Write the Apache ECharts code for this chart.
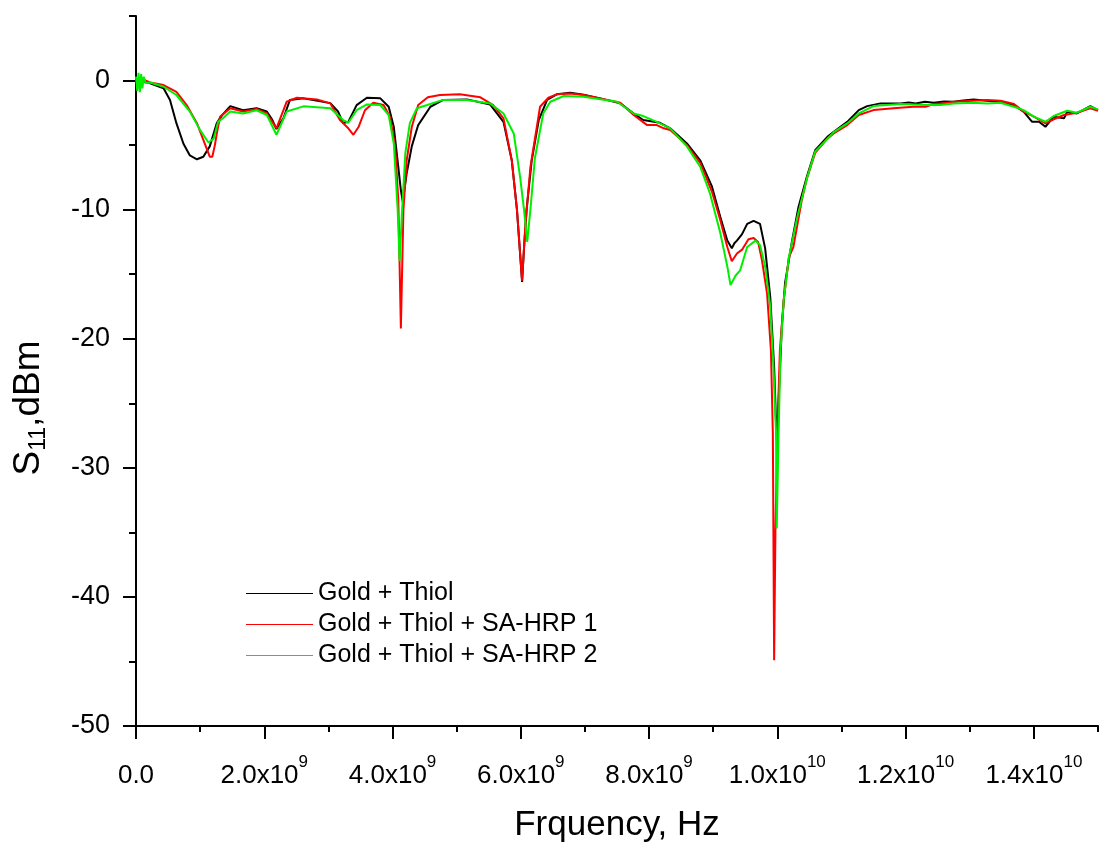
<!DOCTYPE html>
<html>
<head>
<meta charset="utf-8">
<script src="https://cdn.jsdelivr.net/npm/echarts@6/dist/echarts.min.js"></script>
<style>
html,body{margin:0;padding:0;background:#fff;}
#chart{width:1101px;height:845px;}
</style>
</head>
<body>
<div id="chart"></div>
<script>
// Frequency in GHz, S11 in dBm
const blackFreq = [0.00,0.05,0.22,0.43,0.53,0.63,0.74,0.84,0.95,1.05,1.15,1.26,1.34,1.47,1.67,1.88,2.04,2.12,2.19,2.30,2.40,2.61,3.03,3.15,3.23,3.31,3.44,3.60,3.81,3.94,4.02,4.09,4.13,4.16,4.19,4.22,4.30,4.40,4.59,4.79,5.16,5.52,5.73,5.86,5.94,5.99,6.02,6.05,6.09,6.17,6.28,6.41,6.56,6.77,6.98,7.24,7.55,7.76,7.91,8.17,8.33,8.59,8.80,8.98,9.11,9.22,9.29,9.33,9.37,9.45,9.53,9.63,9.73,9.81,9.89,9.95,9.99,10.02,10.07,10.12,10.23,10.33,10.46,10.59,10.78,10.88,11.09,11.27,11.40,11.61,11.92,12.05,12.16,12.30,12.44,12.60,12.75,12.90,13.06,13.27,13.48,13.69,13.84,13.97,14.08,14.18,14.31,14.47,14.52,14.67,14.88,15.00];
const blackS11  = [-0.05,0.0,-0.22,-0.6,-1.5,-3.3,-4.9,-5.8,-6.1,-5.9,-5.1,-3.3,-2.7,-1.98,-2.3,-2.15,-2.4,-3.0,-3.76,-2.9,-1.5,-1.38,-1.75,-2.4,-3.3,-3.2,-1.9,-1.33,-1.38,-2.03,-3.6,-6.7,-8.5,-9.4,-8.3,-7.2,-5.1,-3.45,-2.03,-1.5,-1.46,-1.85,-3.2,-6.2,-10.0,-13.5,-15.6,-13.0,-10.0,-6.2,-3.06,-1.5,-1.07,-0.95,-1.1,-1.38,-1.77,-2.55,-3.06,-3.27,-3.7,-4.87,-6.2,-8.2,-10.56,-12.4,-13.0,-12.6,-12.4,-11.9,-11.1,-10.87,-11.1,-13.0,-16.8,-22.2,-27.9,-24.8,-19.1,-15.7,-12.4,-9.8,-7.45,-5.4,-4.36,-3.97,-3.2,-2.29,-1.98,-1.77,-1.77,-1.7,-1.77,-1.65,-1.72,-1.62,-1.64,-1.55,-1.46,-1.56,-1.64,-1.9,-2.41,-3.19,-3.19,-3.58,-2.8,-2.93,-2.42,-2.55,-1.98,-2.29];

const redFreq = [0.00,0.10,0.22,0.43,0.63,0.79,0.95,1.05,1.15,1.19,1.23,1.26,1.31,1.47,1.67,1.88,2.04,2.19,2.35,2.51,2.82,3.03,3.18,3.31,3.39,3.47,3.57,3.70,3.86,3.96,4.04,4.09,4.13,4.17,4.22,4.30,4.40,4.55,4.74,5.05,5.37,5.57,5.73,5.86,5.94,6.02,6.07,6.15,6.30,6.43,6.56,6.77,6.98,7.24,7.55,7.76,7.97,8.12,8.23,8.33,8.59,8.80,8.98,9.11,9.22,9.29,9.37,9.45,9.55,9.63,9.70,9.76,9.84,9.90,9.93,9.95,9.97,10.00,10.04,10.10,10.18,10.25,10.38,10.46,10.59,10.78,10.88,11.09,11.27,11.50,11.81,12.12,12.31,12.44,12.60,12.75,12.90,13.06,13.27,13.48,13.69,13.84,14.00,14.18,14.31,14.47,14.67,14.88,15.00];
const redS11  = [-0.05,0.1,-0.15,-0.35,-0.87,-1.9,-3.3,-4.6,-5.9,-5.9,-5.0,-4.1,-2.8,-2.15,-2.4,-2.2,-2.55,-3.7,-1.64,-1.33,-1.46,-1.77,-3.06,-3.7,-4.2,-3.6,-2.3,-1.72,-1.9,-2.8,-5.1,-9.3,-19.2,-10.0,-6.2,-3.6,-1.9,-1.3,-1.12,-1.07,-1.3,-1.9,-2.93,-6.2,-10.0,-15.5,-11.3,-6.7,-2.03,-1.33,-1.07,-1.0,-1.12,-1.38,-1.72,-2.67,-3.45,-3.45,-3.7,-3.84,-5.0,-6.4,-8.6,-10.8,-12.9,-14.0,-13.4,-13.1,-12.3,-12.2,-12.5,-13.9,-16.5,-20.9,-27.3,-44.9,-35.0,-27.3,-20.9,-17.0,-13.7,-12.9,-9.3,-7.6,-5.6,-4.5,-4.1,-3.45,-2.67,-2.29,-2.15,-2.03,-2.03,-1.82,-1.75,-1.64,-1.6,-1.56,-1.51,-1.56,-1.82,-2.41,-2.8,-3.32,-3.0,-2.67,-2.49,-2.15,-2.34];

const greenFreq = [0.00,0.02,0.04,0.06,0.08,0.10,0.12,0.15,0.22,0.43,0.63,0.84,1.00,1.13,1.21,1.28,1.36,1.47,1.67,1.88,2.04,2.19,2.35,2.61,3.03,3.23,3.31,3.44,3.60,3.81,3.94,4.02,4.08,4.11,4.15,4.20,4.27,4.38,4.54,4.79,5.16,5.52,5.73,5.89,5.99,6.05,6.10,6.15,6.22,6.35,6.46,6.67,6.98,7.50,7.76,7.91,8.12,8.33,8.59,8.80,8.95,9.11,9.22,9.27,9.35,9.42,9.53,9.66,9.73,9.81,9.89,9.94,9.98,9.99,10.02,10.05,10.10,10.18,10.31,10.46,10.59,10.88,11.09,11.27,11.50,11.92,12.33,12.54,12.75,13.06,13.27,13.48,13.69,13.84,14.00,14.18,14.31,14.52,14.67,14.88,15.00];
const greenS11  = [0.3,-0.8,0.6,-0.9,0.5,-0.6,0.3,-0.2,-0.15,-0.48,-1.12,-2.4,-3.84,-4.8,-4.5,-3.2,-2.9,-2.4,-2.55,-2.3,-2.67,-4.2,-2.4,-2.0,-2.15,-3.06,-3.27,-2.3,-1.85,-1.9,-2.67,-4.9,-10.0,-14.0,-10.0,-5.6,-3.3,-2.15,-1.9,-1.5,-1.5,-1.77,-2.55,-4.1,-7.5,-10.0,-12.5,-10.0,-6.0,-2.55,-1.64,-1.2,-1.25,-1.64,-2.55,-2.75,-3.2,-3.7,-5.1,-6.7,-8.75,-11.8,-14.4,-15.85,-15.1,-14.7,-12.9,-12.4,-12.75,-14.4,-17.5,-22.2,-27.3,-34.7,-27.3,-20.9,-17.0,-13.7,-10.6,-7.6,-5.5,-4.0,-3.32,-2.55,-1.98,-1.82,-1.9,-1.9,-1.77,-1.72,-1.77,-1.72,-2.03,-2.29,-2.8,-3.19,-2.75,-2.34,-2.49,-2.03,-2.23];

const seriesNames = ['Gold + Thiol','Gold + Thiol + SA-HRP 1','Gold + Thiol + SA-HRP 2'];
const seriesColors = ['#000000','#ff0000','#00ee00'];
const xMajorTicks = [0,2e9,4e9,6e9,8e9,1e10,1.2e10,1.4e10];
const xMinorTicks = [1e9,3e9,5e9,7e9,9e9,1.1e10,1.3e10,1.5e10];
const yMajorTicks = [-50,-40,-30,-20,-10,0];
const yMinorTicks = [-45,-35,-25,-15,-5,5];
const xTitle = 'Frquency, Hz';

function pairs(f, v){ return f.map((x,i)=>[x*1e9, v[i]]); }
const font = "'Liberation Sans', Arial, sans-serif";

function xFmt(v){
  if (v === 0) return '{b|0.0}';
  const e = Math.floor(Math.log10(v) + 1e-9);
  const m = (v/Math.pow(10,e)).toFixed(1);
  return '{b|' + m + 'x10}{s|' + e + '}';
}

const chart = echarts.init(document.getElementById('chart'), null, {renderer:'canvas'});
const axisLineStyle = {color:'#000', width:2};
chart.setOption({
  animation:false,
  backgroundColor:'#fff',
  textStyle:{fontFamily:font},
  grid:{left:136, right:3, top:16, bottom:119, containLabel:false, outerBoundsMode:'none'},
  legend:{
    orient:'vertical', left:241, top:574, itemGap:2,
    itemWidth:67, itemHeight:1.2, icon:'rect',
    data:seriesNames,
    textStyle:{fontSize:25, color:'#000', fontFamily:font, lineHeight:29}
  },
  xAxis:[{
    type:'value', min:0, max:1.5e10, interval:2e9,
    name:xTitle, nameLocation:'middle', nameGap:82,
    nameTextStyle:{fontSize:35, color:'#000', fontFamily:font},
    axisLine:{show:true, onZero:false, lineStyle:axisLineStyle},
    axisTick:{show:true, length:13, lineStyle:{color:'#000', width:2}, customValues:xMajorTicks},
    splitLine:{show:false},
    axisLabel:{
      customValues:xMajorTicks, margin:28, color:'#000', formatter:xFmt,
      rich:{
        b:{fontSize:26, fontFamily:font, color:'#000', padding:[9,0,0,0], verticalAlign:'bottom'},
        s:{fontSize:17, fontFamily:font, color:'#000', verticalAlign:'top'}
      }
    }
  },{
    type:'value', min:0, max:1.5e10, interval:1e9, position:'bottom',
    axisLine:{show:false, onZero:false},
    axisTick:{show:true, length:6, lineStyle:{color:'#000', width:2}, customValues:xMinorTicks},
    axisLabel:{show:false}, splitLine:{show:false}
  }],
  yAxis:[{
    type:'value', min:-50, max:5, interval:10,
    name:'{s|S}{sub|11}{s|,dBm}', nameLocation:'middle', nameGap:86,
    nameTextStyle:{
      padding:[0,74,0,0],
      rich:{
        s:{fontSize:37, fontFamily:font, color:'#000'},
        sub:{fontSize:23, fontFamily:font, color:'#000', padding:[20,0,0,0]}
      }
    },
    axisLine:{show:true, onZero:false, lineStyle:axisLineStyle},
    axisTick:{show:true, length:13, lineStyle:{color:'#000', width:2}, customValues:yMajorTicks},
    splitLine:{show:false},
    axisLabel:{customValues:yMajorTicks, margin:26, fontSize:27, color:'#000', fontFamily:font}
  },{
    type:'value', min:-50, max:5, interval:5, position:'left',
    axisLine:{show:false, onZero:false},
    axisTick:{show:true, length:7, lineStyle:{color:'#000', width:2}, customValues:yMinorTicks},
    axisLabel:{show:false}, splitLine:{show:false}
  }],
  series:[
    {name:seriesNames[0], type:'line', xAxisIndex:0, yAxisIndex:0, symbol:'none', data:pairs(blackFreq, blackS11), lineStyle:{color:seriesColors[0], width:2}, itemStyle:{color:seriesColors[0]}},
    {name:seriesNames[1], type:'line', xAxisIndex:0, yAxisIndex:0, symbol:'none', data:pairs(redFreq, redS11), lineStyle:{color:seriesColors[1], width:2}, itemStyle:{color:seriesColors[1]}},
    {name:seriesNames[2], type:'line', xAxisIndex:0, yAxisIndex:0, symbol:'none', data:pairs(greenFreq, greenS11), lineStyle:{color:seriesColors[2], width:2}, itemStyle:{color:seriesColors[2]}}
  ]
});
</script>
</body>
</html>
